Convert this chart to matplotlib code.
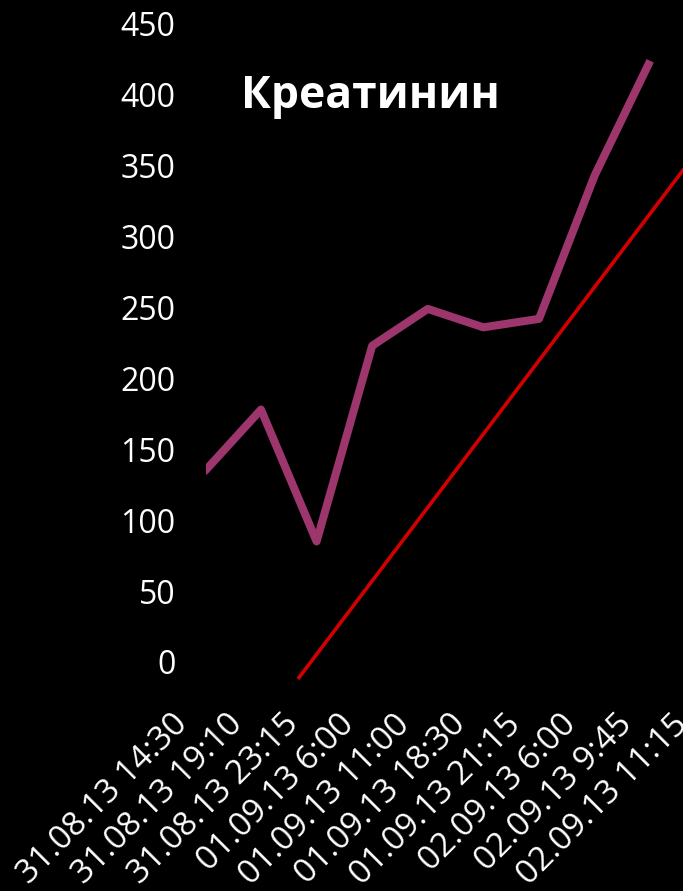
import matplotlib
matplotlib.use('Agg')
import matplotlib.pyplot as plt
import matplotlib.transforms as mtransforms

# categories (time of measurement)
labels = ['31.08.13 14:30', '31.08.13 19:10', '31.08.13 23:15',
          '01.09.13 6:00', '01.09.13 11:00', '01.09.13 18:30',
          '01.09.13 21:15', '02.09.13 6:00', '02.09.13 9:45',
          '02.09.13 11:15']
# creatinine values (first one lies outside the visible plot area)
creat = [110, 135, 178, 85, 223, 249, 236, 242, 343, 424]
# red straight line, endpoints in (category index, value)
trend_x = [2.665, 10.5]
trend_y = [-12, 394]

yticks = [0, 50, 100, 150, 200, 250, 300, 350, 400, 450]

W, H = 683, 891
fig = plt.figure(figsize=(W / 100, H / 100), dpi=100, facecolor='black')
ax = fig.add_axes([206 / W, 0.2173, 1 - 206 / W, 0.7797])
ax.set_facecolor('black')

x = list(range(len(creat)))
ax.plot(x, creat, color='#9E366E', lw=5.8, solid_capstyle='butt',
        solid_joinstyle='round')
ax.plot(trend_x, trend_y, color='#D20000', lw=2.6, solid_capstyle='butt')

ax.set_xlim(1.011, 9.59)
ax.set_ylim(-25, 465)

for s in ax.spines.values():
    s.set_visible(False)

ax.set_xticks([])
ax.set_yticks(yticks)
ax.tick_params(axis='y', length=0, pad=22, labelcolor='white')
for t in ax.get_yticklabels():
    t.set_fontfamily('Open Sans')
    t.set_fontsize(23)

# rotated category labels, anchored to the right of each category
off = mtransforms.ScaledTranslation(21 / 100, 0, fig.dpi_scale_trans)
trans = mtransforms.blended_transform_factory(ax.transData, fig.transFigure) + off
for i, lab in enumerate(labels):
    ax.text(i, (H - 708) / H, lab, transform=trans, rotation=45,
            rotation_mode='anchor', ha='right', va='top', color='white',
            fontsize=24, family='Open Sans', clip_on=False)

fig.text(370 / W, (H - 108) / H, 'Креатинин', color='white',
         fontsize=32, fontweight='bold', family='Open Sans',
         ha='center', va='baseline')

fig.savefig('out.png', dpi=100, facecolor='black')
